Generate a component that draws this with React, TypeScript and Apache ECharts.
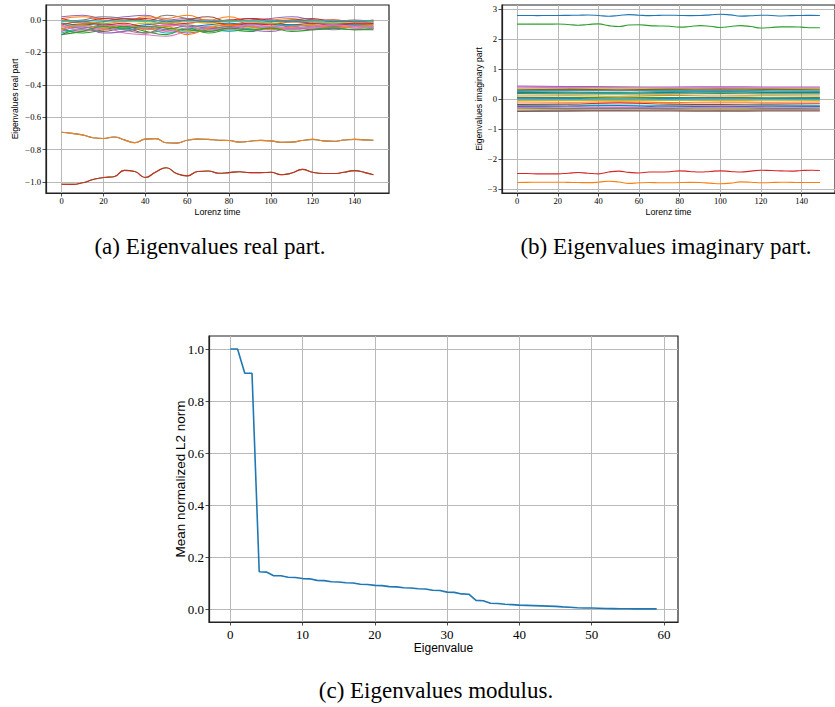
import React, { useEffect, useRef } from "react";
import * as echarts from "echarts";

// ---------- DATA ----------
const TAB10 = ["#1f77b4", "#ff7f0e", "#2ca02c", "#d62728", "#9467bd", "#8c564b", "#e377c2", "#7f7f7f", "#bcbd22", "#17becf"];

// time grids (Lorenz time)
const tMain = [0, 5, 10, 15, 20, 25, 30, 35, 40, 45, 50, 55, 60, 65, 70, 75, 80, 85, 90, 95, 100, 105, 110, 115, 120, 125, 130, 135, 140, 145, 149];
const tCluster = [0, 10, 20, 30, 40, 50, 60, 70, 80, 90, 100, 110, 120, 130, 140, 149];
const tBand = [0, 25, 50, 75, 100, 125, 149];

// (a) real part — two separated conjugate pairs
const realPairA = [-0.693, -0.700, -0.709, -0.727, -0.731, -0.722, -0.740, -0.757, -0.735, -0.732, -0.758, -0.760, -0.742, -0.735, -0.737, -0.742, -0.744, -0.754, -0.748, -0.743, -0.746, -0.755, -0.754, -0.744, -0.737, -0.746, -0.748, -0.741, -0.737, -0.740, -0.742];
const realPairB = [-1.014, -1.015, -1.005, -0.985, -0.972, -0.968, -0.928, -0.935, -0.972, -0.938, -0.912, -0.948, -0.962, -0.935, -0.932, -0.946, -0.942, -0.937, -0.942, -0.942, -0.940, -0.955, -0.945, -0.922, -0.940, -0.948, -0.948, -0.940, -0.930, -0.942, -0.955];

// (a) real part — cluster near zero
const realC1 = [0.02, 0.03, 0.01, 0.02, 0.03, 0.0, 0.01, 0.0, -0.01, 0.0, 0.01, 0.02, 0.0, -0.01, -0.01, -0.02];
const realC2 = [-0.09, -0.06, -0.07, -0.05, -0.08, -0.06, -0.04, -0.07, -0.05, -0.04, -0.05, -0.04, -0.06, -0.05, -0.04, -0.05];
const realC3 = [-0.06, -0.07, -0.05, -0.08, -0.09, -0.1, -0.07, -0.06, -0.05, -0.06, -0.04, -0.05, -0.05, -0.04, -0.05, -0.06];
const realC4 = [-0.01, 0.0, 0.02, 0.01, -0.01, 0.03, 0.01, -0.01, 0.0, -0.02, -0.01, 0.0, -0.01, -0.02, -0.02, -0.03];
const realC5 = [-0.04, -0.03, -0.05, -0.04, -0.02, -0.05, -0.07, -0.04, -0.03, -0.05, -0.04, -0.03, -0.04, -0.03, -0.04, -0.04];
const realC6 = [-0.08, -0.05, -0.04, -0.06, -0.05, -0.08, -0.06, -0.05, -0.07, -0.05, -0.04, -0.03, -0.04, -0.03, -0.03, -0.04];
const realC7 = [-0.02, -0.03, -0.02, -0.04, -0.03, -0.02, -0.04, -0.03, -0.02, -0.03, -0.02, -0.03, -0.02, -0.02, -0.03, -0.02];
const realC8 = [0.01, 0.02, 0.0, -0.01, 0.02, 0.01, 0.03, 0.0, 0.02, -0.01, 0.0, 0.01, -0.01, 0.0, -0.01, -0.01];
const realC9 = [-0.05, -0.08, -0.06, -0.04, -0.07, -0.09, -0.05, -0.08, -0.06, -0.07, -0.05, -0.06, -0.04, -0.05, -0.06, -0.05];
const realC10 = [-0.03, -0.01, -0.03, -0.02, -0.04, -0.03, -0.02, -0.01, -0.03, -0.02, -0.03, -0.01, -0.02, -0.03, -0.02, -0.02];
const realC11 = [-0.07, -0.04, -0.08, -0.07, -0.05, -0.06, -0.08, -0.06, -0.04, -0.06, -0.07, -0.05, -0.05, -0.06, -0.04, -0.05];
const realC12 = [0.0, -0.02, -0.01, 0.01, 0.0, -0.02, 0.0, 0.02, -0.01, 0.01, -0.01, 0.0, 0.01, -0.01, 0.0, -0.01];
const realC13 = [-0.05, -0.04, -0.06, -0.05, -0.04, -0.07, -0.05, -0.04, -0.06, -0.04, -0.05, -0.06, -0.05, -0.04, -0.05, -0.04];
const realC14 = [-0.02, -0.05, -0.03, -0.06, -0.08, -0.04, -0.03, -0.05, -0.04, -0.03, -0.02, -0.04, -0.03, -0.04, -0.03, -0.03];
const realC15 = [-0.01, -0.01, -0.02, -0.01, -0.01, -0.02, -0.01, -0.02, -0.01, -0.01, -0.02, -0.01, -0.01, -0.02, -0.01, -0.01];
const realC16 = [-0.06, -0.03, -0.05, -0.03, -0.06, -0.04, -0.09, -0.05, -0.03, -0.04, -0.06, -0.04, -0.03, -0.05, -0.04, -0.03];
const realC17 = [0.01, -0.01, 0.01, 0.0, 0.01, -0.01, 0.0, -0.01, 0.0, 0.01, 0.0, -0.01, 0.0, 0.0, -0.01, 0.0];
const realC18 = [-0.03, -0.06, -0.04, -0.03, -0.05, -0.03, -0.04, -0.06, -0.05, -0.03, -0.04, -0.05, -0.04, -0.03, -0.04, -0.05];
const realC19 = [-0.09, -0.07, -0.04, -0.05, -0.04, -0.05, -0.06, -0.07, -0.05, -0.06, -0.05, -0.07, -0.06, -0.05, -0.06, -0.06];
const realC20 = [-0.004, -0.005, -0.006, -0.005, -0.004, -0.005, -0.006, -0.005, -0.004, -0.005, -0.005, -0.006, -0.005, -0.004, -0.005, -0.005];
const realCluster = [realC1, realC2, realC3, realC4, realC5, realC6, realC7, realC8, realC9, realC10, realC11, realC12, realC13, realC14, realC15, realC16, realC17, realC18, realC19, realC20];
const realClusterColors = [4, 5, 6, 7, 8, 9, 0, 1, 2, 3, 4, 5, 6, 7, 8, 1, 3, 6, 2, 9];

// (b) imaginary part — four separated lines
const imagBlue = [2.79, 2.79, 2.785, 2.79, 2.79, 2.795, 2.80, 2.805, 2.79, 2.765, 2.79, 2.82, 2.80, 2.785, 2.795, 2.80, 2.79, 2.785, 2.79, 2.81, 2.83, 2.81, 2.77, 2.78, 2.80, 2.79, 2.775, 2.785, 2.79, 2.795, 2.79];
const imagOrange = [-2.79, -2.785, -2.78, -2.78, -2.78, -2.785, -2.79, -2.795, -2.78, -2.745, -2.77, -2.82, -2.80, -2.79, -2.80, -2.80, -2.79, -2.785, -2.79, -2.81, -2.83, -2.81, -2.77, -2.78, -2.80, -2.79, -2.78, -2.785, -2.79, -2.79, -2.79];
const imagGreen = [2.50, 2.50, 2.50, 2.50, 2.505, 2.49, 2.465, 2.49, 2.51, 2.45, 2.42, 2.47, 2.48, 2.45, 2.44, 2.43, 2.40, 2.42, 2.45, 2.43, 2.39, 2.42, 2.45, 2.42, 2.37, 2.39, 2.41, 2.41, 2.40, 2.38, 2.38];
const imagRed = [-2.49, -2.49, -2.50, -2.50, -2.50, -2.48, -2.455, -2.48, -2.50, -2.44, -2.41, -2.45, -2.47, -2.44, -2.44, -2.43, -2.40, -2.42, -2.44, -2.42, -2.40, -2.42, -2.44, -2.41, -2.38, -2.39, -2.40, -2.41, -2.39, -2.38, -2.39];

// (b) imaginary part — band around zero
const imagBand = [
  [0.43, 0.42, 0.41, 0.40, 0.41, 0.40, 0.40],
  [0.39, 0.38, 0.38, 0.37, 0.38, 0.37, 0.37],
  [0.34, 0.35, 0.36, 0.35, 0.34, 0.35, 0.35],
  [0.31, 0.32, 0.31, 0.32, 0.33, 0.32, 0.31],
  [0.28, 0.29, 0.28, 0.29, 0.28, 0.29, 0.29],
  [0.25, 0.24, 0.22, 0.26, 0.25, 0.26, 0.25],
  [0.22, 0.21, 0.20, 0.22, 0.23, 0.22, 0.22],
  [0.18, 0.17, 0.17, 0.17, 0.18, 0.17, 0.17],
  [0.10, 0.11, 0.09, 0.12, 0.10, 0.11, 0.10],
  [0.05, 0.05, 0.04, 0.05, 0.05, 0.04, 0.05],
  [0.03, 0.02, 0.0, 0.02, 0.03, 0.02, 0.02],
  [0.0, 0.0, 0.0, 0.0, 0.0, 0.0, 0.0],
  [-0.03, -0.02, 0.0, -0.02, -0.03, -0.02, -0.02],
  [-0.05, -0.05, -0.04, -0.05, -0.05, -0.04, -0.05],
  [-0.10, -0.11, -0.09, -0.12, -0.10, -0.11, -0.10],
  [-0.22, -0.21, -0.20, -0.22, -0.23, -0.22, -0.22],
  [-0.25, -0.24, -0.22, -0.26, -0.25, -0.26, -0.25],
  [-0.28, -0.29, -0.28, -0.29, -0.28, -0.29, -0.29],
  [-0.31, -0.32, -0.31, -0.32, -0.33, -0.32, -0.31],
  [-0.34, -0.35, -0.36, -0.35, -0.34, -0.35, -0.35],
  [-0.39, -0.38, -0.38, -0.37, -0.38, -0.37, -0.37],
  [-0.42, -0.41, -0.40, -0.40, -0.41, -0.40, -0.40],
  [-0.18, -0.17, -0.13, -0.17, -0.18, -0.17, -0.16],
];
const imagBandColors = [4, 6, 8, 5, 7, 9, 0, 2, 1, 2, 0, 7, 9, 8, 1, 9, 0, 6, 4, 8, 7, 5, 3];

// (c) modulus
const eigenIndex = Array.from({ length: 60 }, (_, i) => i);
const meanNorm = [1.0, 1.0, 0.907, 0.907, 0.143, 0.142, 0.128, 0.128, 0.122, 0.121, 0.117, 0.116, 0.110, 0.109, 0.105, 0.104, 0.101, 0.100, 0.095, 0.094, 0.091, 0.090, 0.086, 0.085, 0.082, 0.081, 0.078, 0.077, 0.072, 0.071, 0.065, 0.064, 0.058, 0.057, 0.033, 0.032, 0.022, 0.021, 0.018, 0.017, 0.015, 0.014, 0.013, 0.012, 0.011, 0.010, 0.008, 0.007, 0.005, 0.004, 0.004, 0.003, 0.002, 0.0015, 0.001, 0.001, 0.0005, 0.0005, 0.0003, 0.0003];

// tick values
const timeTicks = [0, 20, 40, 60, 80, 100, 120, 140];
const realTicks = [-1.0, -0.8, -0.6, -0.4, -0.2, 0.0];
const imagTicks = [-3, -2, -1, 0, 1, 2, 3];
const eigTicks = [0, 10, 20, 30, 40, 50, 60];
const normTicks = [0.0, 0.2, 0.4, 0.6, 0.8, 1.0];

// captions
const captions = ["(a) Eigenvalues real part.", "(b) Eigenvalues imaginary part.", "(c) Eigenvalues modulus."];

// ---------- HELPERS ----------
const SERIF = "'Liberation Serif', 'DejaVu Serif', serif";
const SANS = "'Liberation Sans', 'DejaVu Sans', sans-serif";

const fmt = (dec: number) => (v: number) => {
  const s = Math.abs(v).toFixed(dec);
  return v < -1e-9 ? "\u2212" + s : s;
};

function mkAxis(o: any) {
  return {
    type: "value",
    gridIndex: o.gridIndex,
    min: o.min,
    max: o.max,
    name: o.name,
    nameLocation: "middle",
    nameGap: o.nameGap,
    nameMoveOverlap: false,
    nameTextStyle: { fontFamily: SANS, fontSize: o.nameSize, color: "#000" },
    axisLine: { show: true, onZero: false, lineStyle: { color: "#222", width: 1.2 } },
    axisTick: { show: true, inside: false, length: 3.5, customValues: o.ticks, lineStyle: { color: "#222", width: 0.8 } },
    axisLabel: {
      customValues: o.ticks,
      fontFamily: SERIF,
      fontSize: o.labelSize,
      color: "#000",
      margin: o.margin,
      formatter: fmt(o.dec),
    },
    splitLine: { show: true, lineStyle: { color: "#b9b9b9", width: 1 } },
  };
}

function pairs(xs: number[], ys: number[]) {
  return xs.map((x, i) => [x, ys[i]]);
}

export default function App() {
  const ref = useRef<HTMLDivElement>(null);
  useEffect(() => {
    document.body.style.margin = "0";
    const chart = echarts.init(ref.current!, undefined, { renderer: "svg" });
    const gridBase = { show: true, borderColor: "#222", borderWidth: 1.2, backgroundColor: "transparent", containLabel: false };

    const series: any[] = [];
    const lineS = (xi: number, yi: number, data: any[], color: string, width: number, smooth: boolean) => ({
      type: "line",
      xAxisIndex: xi,
      yAxisIndex: yi,
      data,
      symbol: "none",
      smooth,
      lineStyle: { color, width },
      itemStyle: { color },
      clip: true,
      silent: true,
    });

    // (a)
    series.push(lineS(0, 0, pairs(tMain, realPairA), TAB10[0], 1.1, true));
    series.push(lineS(0, 0, pairs(tMain, realPairA), TAB10[1], 1.1, true));
    series.push(lineS(0, 0, pairs(tMain, realPairB), TAB10[2], 1.1, true));
    series.push(lineS(0, 0, pairs(tMain, realPairB), TAB10[3], 1.1, true));
    realCluster.forEach((arr, i) => series.push(lineS(0, 0, pairs(tCluster, arr), TAB10[realClusterColors[i]], 1.1, true)));

    // (b)
    series.push(lineS(1, 1, pairs(tMain, imagBlue), TAB10[0], 1.1, true));
    series.push(lineS(1, 1, pairs(tMain, imagOrange), TAB10[1], 1.1, true));
    series.push(lineS(1, 1, pairs(tMain, imagGreen), TAB10[2], 1.1, true));
    series.push(lineS(1, 1, pairs(tMain, imagRed), TAB10[3], 1.1, true));
    imagBand.forEach((arr, i) => series.push(lineS(1, 1, pairs(tBand, arr), TAB10[imagBandColors[i]], 1.1, true)));

    // (c)
    series.push(lineS(2, 2, pairs(eigenIndex, meanNorm), TAB10[0], 1.6, false));

    const cap = (text: string, cx: number, cy: number) => ({
      type: "text",
      x: cx,
      y: cy,
      style: { text, fontFamily: SERIF, fontSize: 23, fill: "#000", textAlign: "center", textVerticalAlign: "middle" },
    });

    chart.setOption({
      animation: false,
      backgroundColor: "#fff",
      grid: [
        { ...gridBase, left: 46, top: 5, width: 343, height: 188 },
        { ...gridBase, left: 502, top: 5, width: 343, height: 188 },
        { ...gridBase, left: 209, top: 336, width: 469, height: 286 },
      ],
      xAxis: [
        mkAxis({ gridIndex: 0, min: -7.45, max: 156.45, ticks: timeTicks, dec: 0, labelSize: 8.5, margin: 3.5, name: "Lorenz time", nameGap: 14, nameSize: 8.8 }),
        mkAxis({ gridIndex: 1, min: -7.45, max: 156.45, ticks: timeTicks, dec: 0, labelSize: 8.5, margin: 3.5, name: "Lorenz time", nameGap: 14, nameSize: 8.8 }),
        mkAxis({ gridIndex: 2, min: -2.95, max: 61.95, ticks: eigTicks, dec: 0, labelSize: 13, margin: 6, name: "Eigenvalue", nameGap: 20, nameSize: 12 }),
      ],
      yAxis: [
        mkAxis({ gridIndex: 0, min: -1.068, max: 0.093, ticks: realTicks, dec: 1, labelSize: 8.7, margin: 5, name: "Eigenvalues real part", nameGap: 27, nameSize: 8.6 }),
        mkAxis({ gridIndex: 1, min: -3.14, max: 3.14, ticks: imagTicks, dec: 0, labelSize: 8.7, margin: 5, name: "Eigenvalues imaginary part", nameGap: 19, nameSize: 8.6 }),
        mkAxis({ gridIndex: 2, min: -0.05, max: 1.05, ticks: normTicks, dec: 1, labelSize: 13, margin: 5, name: "Mean normalized L2 norm", nameGap: 22, nameSize: 13.5 }),
      ],
      graphic: [cap(captions[0], 210, 246), cap(captions[1], 666, 246), cap(captions[2], 436, 690)],
      series,
    });
    return () => chart.dispose();
  }, []);
  return <div ref={ref} style={{ position: "fixed", left: 0, top: 0, width: 835, height: 707 }} />;
}
